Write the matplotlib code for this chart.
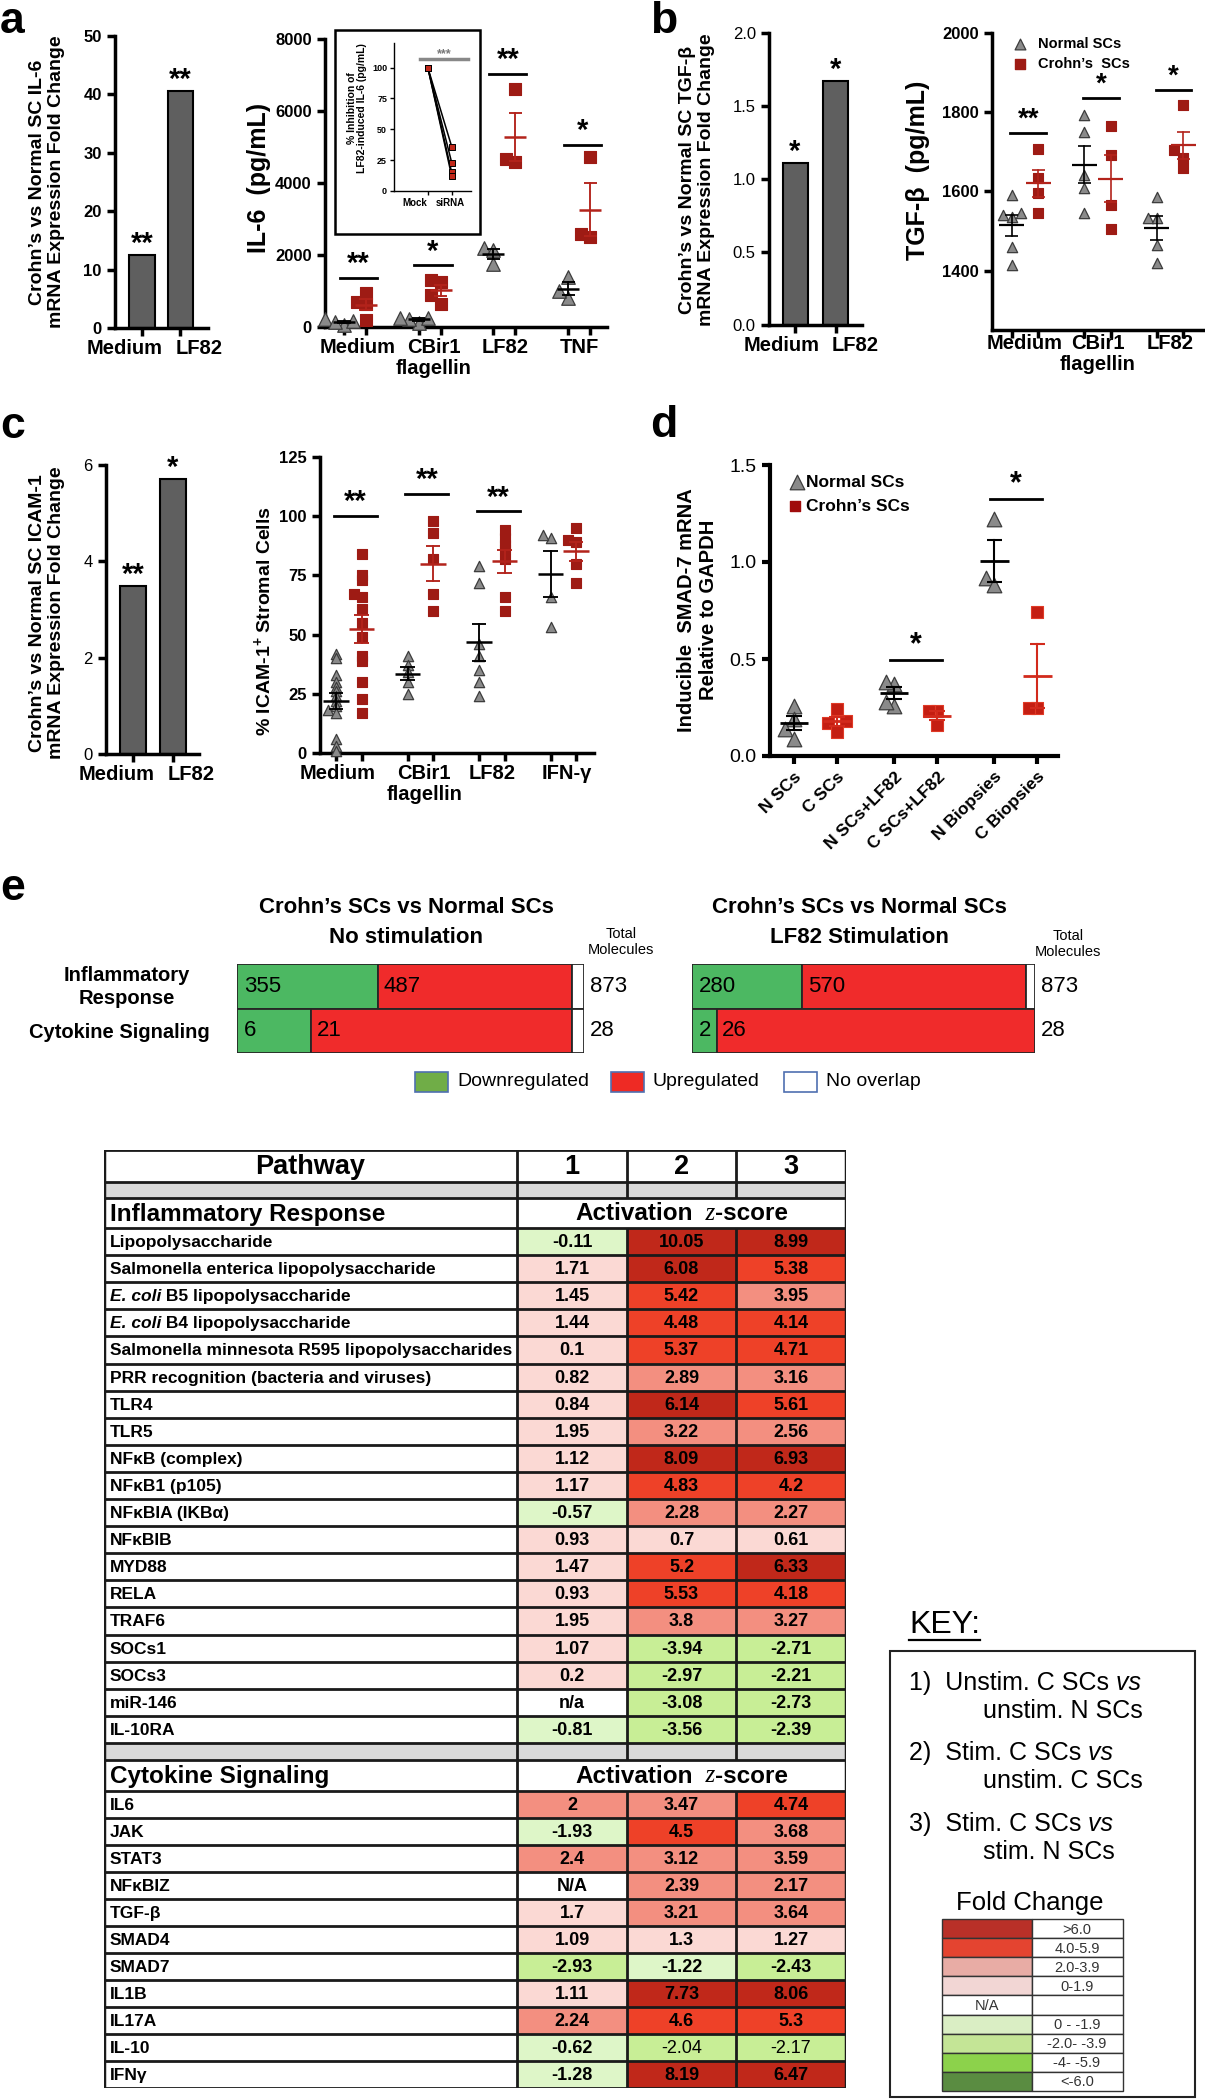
import numpy as np
import matplotlib
matplotlib.use('Agg')
import matplotlib.pyplot as plt
from matplotlib.patches import Rectangle
from matplotlib.lines import Line2D

plt.rcParams['font.family'] = ['Liberation Sans', 'DejaVu Sans']
plt.rcParams['mathtext.fontset'] = 'custom'
plt.rcParams['mathtext.rm'] = 'Liberation Sans:bold'
plt.rcParams['mathtext.it'] = 'Liberation Sans:italic:bold'
plt.rcParams['mathtext.bf'] = 'Liberation Sans:bold'

# ======================= DATA =======================
# panel a
a_bar_cats = ['Medium', 'LF82']
a_bar_vals = [12.5, 40.5]
a_bar_sig = ['**', '**']
il6_groups = ['Medium', 'CBir1\nflagellin', 'LF82', 'TNF']
il6_normal = [[60, 170, 210, 140], [100, 250, 230, 260], [2200, 2150, 1750], [1400, 800, 1000]]
il6_crohn = [[950, 650, 700, 200], [1300, 1250, 900, 650], [6610, 4670, 4570], [4720, 2580, 2490]]
il6_sig = ['**', '*', '**', '*']
il6_sig_y = [1360, 1710, 7040, 5050]
inset_cats = ['Mock', 'siRNA']
inset_mock = [100, 100, 100, 100]
inset_sirna = [36, 23, 15, 12]

# panel b
b_bar_cats = ['Medium', 'LF82']
b_bar_vals = [1.11, 1.67]
b_bar_sig = ['*', '*']
tgf_groups = ['Medium', 'CBir1\nflagellin', 'LF82']
tgf_normal = [[1590, 1545, 1540, 1535, 1460, 1415], [1794, 1750, 1642, 1608, 1545], [1587, 1533, 1533, 1465, 1420]]
tgf_crohn = [[1708, 1634, 1596, 1545], [1765, 1693, 1565, 1505], [1817, 1704, 1684, 1659]]
tgf_sig = ['**', '*', '*']
tgf_sig_y = [1748, 1836, 1857]

# panel c
c_bar_cats = ['Medium', 'LF82']
c_bar_vals = [3.48, 5.7]
c_bar_sig = ['**', '*']
icam_groups = ['Medium', 'CBir1\nflagellin', 'LF82', 'IFN-γ']
icam_normal = [[42, 40, 33, 30, 28, 26, 24, 22, 20, 18, 17, 6, 3, 1],
               [41, 37, 34, 30, 25],
               [79, 72, 46, 41, 35, 30, 24],
               [91, 92, 66, 53]]
icam_crohn = [[84, 75, 73, 67, 66, 61, 55, 49, 41, 39, 30, 23, 17],
              [98, 93, 82, 67, 60],
              [94, 91, 88, 86, 82, 66, 60],
              [95, 89, 90, 80, 72]]
icam_sig = ['**', '**', '**']
icam_sig_y = [100, 109.5, 102]

# panel d
d_labels = ['N SCs', 'C SCs', 'N SCs+LF82', 'C SCs+LF82', 'N Biopsies', 'C Biopsies']
d_normal = [[0.26, 0.19, 0.14, 0.09], [0.37, 0.38, 0.26, 0.28], [1.22, 0.92, 0.88]]
d_crohn = [[0.24, 0.18, 0.17, 0.125], [0.23, 0.23, 0.16], [0.74, 0.25, 0.25]]
d_sig = ['', '*', '*']
d_sig_y = [None, 0.495, 1.325]

# panel e
e_rows = ['Inflammatory\nResponse', 'Cytokine Signaling']
e_unstim_down = [355, 6]
e_unstim_up = [487, 21]
e_stim_down = [280, 2]
e_stim_up = [570, 26]
e_total = [873, 28]
e_legend = ['Downregulated', 'Upregulated', 'No overlap']

# table
ir_labels = ['Lipopolysaccharide', 'Salmonella enterica lipopolysaccharide', 'E. coli B5 lipopolysaccharide',
             'E. coli B4 lipopolysaccharide', 'Salmonella minnesota R595 lipopolysaccharides',
             'PRR recognition (bacteria and viruses)', 'TLR4', 'TLR5', 'NFκB (complex)', 'NFκB1 (p105)',
             'NFκBIA (IKBα)', 'NFκBIB', 'MYD88', 'RELA', 'TRAF6', 'SOCs1', 'SOCs3', 'miR-146', 'IL-10RA']
ir_z1 = ['-0.11', '1.71', '1.45', '1.44', '0.1', '0.82', '0.84', '1.95', '1.12', '1.17', '-0.57', '0.93',
         '1.47', '0.93', '1.95', '1.07', '0.2', 'n/a', '-0.81']
ir_z2 = ['10.05', '6.08', '5.42', '4.48', '5.37', '2.89', '6.14', '3.22', '8.09', '4.83', '2.28', '0.7',
         '5.2', '5.53', '3.8', '-3.94', '-2.97', '-3.08', '-3.56']
ir_z3 = ['8.99', '5.38', '3.95', '4.14', '4.71', '3.16', '5.61', '2.56', '6.93', '4.2', '2.27', '0.61',
         '6.33', '4.18', '3.27', '-2.71', '-2.21', '-2.73', '-2.39']
cs_labels = ['IL6', 'JAK', 'STAT3', 'NFκBIZ', 'TGF-β', 'SMAD4', 'SMAD7', 'IL1B', 'IL17A', 'IL-10', 'IFNγ']
cs_z1 = ['2', '-1.93', '2.4', 'N/A', '1.7', '1.09', '-2.93', '1.11', '2.24', '-0.62', '-1.28']
cs_z2 = ['3.47', '4.5', '3.12', '2.39', '3.21', '1.3', '-1.22', '7.73', '4.6', '-2.04', '8.19']
cs_z3 = ['4.74', '3.68', '3.59', '2.17', '3.64', '1.27', '-2.43', '8.06', '5.3', '-2.17', '6.47']
plain_cells = [('IL-10', 2), ('IL-10', 3)]

# key
key_items = [('1)  Unstim. C SCs', 'unstim. N SCs'), ('2)  Stim. C SCs', 'unstim. C SCs'),
             ('3)  Stim. C SCs', 'stim. N SCs')]
fc_labels = ['>6.0', '4.0-5.9', '2.0-3.9', '0-1.9', '', '0 - -1.9', '-2.0- -3.9', '-4- -5.9', '<-6.0']
fc_colors = ['#B93028', '#E44430', '#E8ACA5', '#F2D6D4', '#FFFFFF', '#DAEEC4', '#C4E596', '#8CD24B', '#5A8C41']

# ======================= FIGURE =======================
W, H = 1205, 2100
fig = plt.figure(figsize=(W / 100, H / 100), dpi=100)
fig.patch.set_facecolor('white')
RND = fig.canvas.get_renderer()
PT = 0.72  # points per pixel at dpi 100

TRI = '#8a8a8a'
TRI_E = '#3c3c3c'
SQ = '#9e1b14'
RED_LINE = '#b3231b'


def add_ax(x0, y0, x1, y1):
    return fig.add_axes([x0 / W, 1 - y1 / H, (x1 - x0) / W, (y1 - y0) / H])


def ftext(x, y, s, **kw):
    return fig.text(x / W, 1 - y / H, s, **kw)


def runs(x, y, parts, ha='left', va='center'):
    objs, ws = [], []
    for s, kw in parts:
        t = fig.text(0, 0, s, ha='left', va=va, **kw)
        objs.append(t)
        ws.append(t.get_window_extent(RND).width)
    x0 = x - sum(ws) / 2 if ha == 'center' else x
    for t, w in zip(objs, ws):
        t.set_position((x0 / W, 1 - y / H))
        x0 += w


def style(ax, lw=2.5):
    for s in ['top', 'right']:
        ax.spines[s].set_visible(False)
    for s in ['left', 'bottom']:
        ax.spines[s].set_linewidth(lw)
    ax.tick_params(width=lw, length=6, direction='out')


def swarm(vals, yr, dx, frac):
    vals = np.asarray(vals, float)
    offs = np.zeros(len(vals))
    placed = []
    for i in np.argsort(vals):
        for cand in [0, -dx, dx, -2 * dx, 2 * dx, -3 * dx, 3 * dx]:
            ok = all(not (abs(vals[i] - vals[j]) < frac * yr and abs(cand - offs[j]) < dx * 0.9) for j in placed)
            if ok:
                offs[i] = cand
                break
        placed.append(i)
    return offs


def mean_sem(ax, p, v, color, half, cap, lw):
    v = np.asarray(v, float)
    m = v.mean()
    se = v.std(ddof=1) / np.sqrt(len(v))
    ax.plot([p - half, p + half], [m, m], color=color, lw=lw, zorder=5, solid_capstyle='butt')
    ax.plot([p, p], [m - se, m + se], color=color, lw=lw * 0.75, zorder=5)
    ax.plot([p - cap, p + cap], [m + se, m + se], color=color, lw=lw * 0.75, zorder=5, solid_capstyle='butt')
    ax.plot([p - cap, p + cap], [m - se, m - se], color=color, lw=lw * 0.75, zorder=5, solid_capstyle='butt')


def dots(ax, pos_n, pos_c, vn, vc, yr, s_tri, s_sq, dx, frac, half, cap, lw=1.8,
         sq_col=SQ, sq_edge=SQ, red_line=RED_LINE):
    for p, v in zip(pos_n, vn):
        off = swarm(v, yr, dx, frac)
        ax.scatter(p + off, v, marker='^', s=s_tri, facecolor=TRI, edgecolor=TRI_E, linewidth=0.9, zorder=3,
                   clip_on=False)
        mean_sem(ax, p, v, 'black', half, cap, lw)
    for p, v in zip(pos_c, vc):
        off = swarm(v, yr, dx, frac)
        ax.scatter(p + off, v, marker='s', s=s_sq, facecolor=sq_col, edgecolor=sq_edge, linewidth=0.8, zorder=3,
                   clip_on=False)
        mean_sem(ax, p, v, red_line, half, cap, lw)


def sig(ax, x0, x1, y, txt, fs=21, lw=2):
    ax.plot([x0, x1], [y, y], color='black', lw=lw, clip_on=False)
    ax.text((x0 + x1) / 2, y, txt, ha='center', va='bottom', fontsize=fs, fontweight='bold', clip_on=False)


def group_labels(ax, centers, labels, dy=8, fs=14.5, dx=None):
    dx = dx or [0] * len(labels)
    for c, l, d in zip(centers, labels, dx):
        ax.annotate(l, xy=(c, 0), xycoords=('data', 'axes fraction'), xytext=(d * PT, -dy),
                    textcoords='offset points', ha='center', va='top', fontsize=fs, fontweight='bold',
                    linespacing=1.15, annotation_clip=False)


def bar_panel(box, cats, vals, sig_txt, ylim, yticks, ytlabels, xlim, width, tick_fs, tick_w, lab_dx):
    ax = add_ax(*box)
    x = np.arange(len(cats))
    ax.bar(x, vals, width=width, color='#5f5f5f', edgecolor='black', linewidth=1.5, zorder=2)
    ax.set_xlim(*xlim)
    ax.set_ylim(*ylim)
    ax.set_yticks(yticks)
    ax.set_yticklabels(ytlabels, fontsize=tick_fs, fontweight=tick_w)
    ax.set_xticks(x)
    ax.set_xticklabels([])
    group_labels(ax, x, cats, dy=8, fs=14.5, dx=lab_dx)
    for xi, v, s in zip(x, vals, sig_txt):
        ax.annotate(s, (xi, v), xytext=(0, -2), textcoords='offset points', ha='center', va='bottom',
                    fontsize=21, fontweight='bold', annotation_clip=False)
    style(ax)
    return ax


# panel letters
for (lx, ly, lt) in [(0, 33, 'a'), (650, 33, 'b'), (0, 438, 'c'), (650, 437, 'd'), (0, 900, 'e')]:
    ftext(lx, ly, lt, fontsize=32, fontweight='bold', va='baseline', ha='left')

# ---------------- panel a ----------------
bar_panel((115, 36, 208, 328), a_bar_cats, a_bar_vals, a_bar_sig, (0, 50), [0, 10, 20, 30, 40, 50],
          ['0', '10', '20', '30', '40', '50'], (-0.707, 1.73), 0.66, 12, 'bold', [-17, 19])
ftext(47, 182, "Crohn’s vs Normal SC IL-6\nmRNA Expression Fold Change", rotation=90, ha='center',
      va='center', fontsize=14, fontweight='bold', linespacing=1.15)

ax = add_ax(325, 39, 607, 327)
pn = np.array([0, 3.4, 6.8, 10.2])
pc = pn + 1
dots(ax, pn, pc, il6_normal, il6_crohn, 8000, 95, 80, 0.42, 0.035, 0.5, 0.3)
ax.set_ylim(0, 8000)
ax.set_xlim(-0.86, 11.96)
ax.set_yticks([0, 2000, 4000, 6000, 8000])
ax.set_yticklabels(['0', '2000', '4000', '6000', '8000'], fontsize=12, fontweight='bold')
ax.set_xticks(np.sort(np.concatenate([pn, pc])))
ax.set_xticklabels([])
style(ax)
group_labels(ax, (pn + pc) / 2, il6_groups, dx=[3, 4, 1, 0])
for n, c, s, y in zip(pn, pc, il6_sig, il6_sig_y):
    sig(ax, n - 0.2, c + 0.5, y, s)
ftext(259, 178, 'IL-6  (pg/mL)', rotation=90, ha='center', va='center', fontsize=18, fontweight='bold')

# inset
fig.add_artist(Rectangle((335 / W, 1 - 234 / H), 145 / W, 204 / H, transform=fig.transFigure, fill=False,
                         lw=1.8, ec='black', zorder=10))
ai = add_ax(394, 43, 471, 191)
for m, s in zip(inset_mock, inset_sirna):
    ai.plot([0, 1], [m, s], color='black', lw=1.1, zorder=2)
ai.scatter(np.zeros(len(inset_mock)), inset_mock, marker='s', s=22, facecolor='#c0281a', edgecolor='black',
           lw=0.7, zorder=3)
ai.scatter(np.ones(len(inset_sirna)), inset_sirna, marker='s', s=22, facecolor='#c0281a', edgecolor='black',
           lw=0.7, zorder=3)
ai.set_ylim(0, 120)
ai.set_xlim(-1.42, 1.81)
ai.set_yticks([0, 25, 50, 75, 100])
ai.set_yticklabels(['0', '25', '50', '75', '100'], fontsize=6.5, fontweight='bold')
ai.set_xticks([0, 1])
ai.set_xticklabels([])
style(ai, lw=1)
ai.tick_params(length=3, width=1, pad=2)
for xi, lab, d in zip([0, 1], inset_cats, [-13, -1]):
    ai.annotate(lab, xy=(xi, 0), xycoords=('data', 'axes fraction'), xytext=(d * PT, -5),
                textcoords='offset points', ha='center', va='top', fontsize=7, fontweight='bold')
ai.plot([-0.32, 1.7], [107, 107], color='#888888', lw=2.5)
ai.text(0.69, 106, '***', ha='center', va='bottom', fontsize=9, color='#777777', fontweight='bold')
ftext(357, 108, '% Inhibition of\nLF82-induced IL-6 (pg/mL)', rotation=90, ha='center', va='center',
      fontsize=7.5, fontweight='bold', linespacing=1.1)

# ---------------- panel b ----------------
bar_panel((769, 33, 862, 325), b_bar_cats, b_bar_vals, b_bar_sig, (0, 2.0), [0, 0.5, 1.0, 1.5, 2.0],
          ['0.0', '0.5', '1.0', '1.5', '2.0'], (-0.636, 1.636), 0.61, 12, 'normal', [-13, 19])
ftext(697, 180, "Crohn’s vs Normal SC TGF-β\nmRNA Expression Fold Change", rotation=90, ha='center',
      va='center', fontsize=14, fontweight='bold', linespacing=1.15)

ax = add_ax(992, 33, 1203, 330)
pn = np.array([0, 2.75, 5.5])
pc = pn + 1
dots(ax, pn, pc, tgf_normal, tgf_crohn, 750, 55, 45, 0.35, 0.03, 0.47, 0.25, lw=1.6)
ax.set_ylim(1250, 2000)
ax.set_xlim(-0.75, 7.25)
ax.set_yticks([1400, 1600, 1800, 2000])
ax.set_yticklabels(['1400', '1600', '1800', '2000'], fontsize=12, fontweight='bold')
ax.set_xticks(np.sort(np.concatenate([pn, pc])))
ax.set_xticklabels([])
style(ax)
group_labels(ax, (pn + pc) / 2, tgf_groups, dy=3)
for n, c, s, y in zip(pn, pc, tgf_sig, tgf_sig_y):
    sig(ax, n - 0.05, c + 0.3, y, s, fs=20)
ftext(918, 170, 'TGF-β  (pg/mL)', rotation=90, ha='center', va='center', fontsize=18, fontweight='bold')
ax.scatter([0.135], [0.963], transform=ax.transAxes, marker='^', s=60, facecolor=TRI, edgecolor=TRI_E,
           lw=0.9, clip_on=False)
ax.scatter([0.135], [0.896], transform=ax.transAxes, marker='s', s=45, facecolor=SQ, edgecolor=SQ,
           clip_on=False)
ax.text(0.22, 0.963, 'Normal SCs', transform=ax.transAxes, va='center', ha='left', fontsize=10.5,
        fontweight='bold')
ax.text(0.22, 0.896, 'Crohn’s  SCs', transform=ax.transAxes, va='center', ha='left', fontsize=10.5,
        fontweight='bold')

# ---------------- panel c ----------------
bar_panel((106, 465, 199, 754), c_bar_cats, c_bar_vals, c_bar_sig, (0, 6), [0, 2, 4, 6],
          ['0', '2', '4', '6'], (-0.674, 1.65), 0.65, 12, 'normal', [-16, 18])
ftext(47, 613, "Crohn’s vs Normal SC ICAM-1\nmRNA Expression Fold Change", rotation=90, ha='center',
      va='center', fontsize=14, fontweight='bold', linespacing=1.15)

ax = add_ax(320, 457, 594, 753)
pn = np.array([0, 2.8, 5.6, 8.4])
pc = pn + 1
dots(ax, pn, pc, icam_normal, icam_crohn, 125, 55, 50, 0.3, 0.015, 0.5, 0.28, lw=1.8)
ax.set_ylim(0, 125)
ax.set_xlim(-0.63, 10.1)
ax.set_yticks([0, 25, 50, 75, 100, 125])
ax.set_yticklabels(['0', '25', '50', '75', '100', '125'], fontsize=12, fontweight='bold')
ax.set_xticks(np.sort(np.concatenate([pn, pc])))
ax.set_xticklabels([])
style(ax)
group_labels(ax, (pn + pc) / 2, icam_groups, dx=[-11, 4, 0, 3])
for n, c, s, y in zip(pn, pc, icam_sig, icam_sig_y):
    sig(ax, n - 0.1, c + 0.6, y, s)
ftext(263, 621, r'% ICAM-1$^{+}$ Stromal Cells', rotation=90, ha='center', va='center', fontsize=14,
      fontweight='bold')

# ---------------- panel d ----------------
ax = add_ax(770, 465, 1058, 756)
pn = np.array([0, 2.33, 4.66])
pc = pn + 1
dots(ax, pn, pc, d_normal, d_crohn, 1.5, 110, 85, 0.2, 0.04, 0.33, 0.18, lw=2.0,
     sq_col='#c41e12', sq_edge='#e03a26', red_line='#d22a1c')
ax.set_ylim(0, 1.5)
ax.set_xlim(-0.56, 6.14)
ax.set_yticks([0, 0.5, 1.0, 1.5])
ax.set_yticklabels(['0.0', '0.5', '1.0', '1.5'], fontsize=14)
allpos = np.sort(np.concatenate([pn, pc]))
ax.set_xticks(allpos)
ax.set_xticklabels(d_labels, rotation=45, ha='right', rotation_mode='anchor', fontsize=12.5,
                   fontweight='bold')
style(ax, lw=3)
for n, c, s, y in zip(pn, pc, d_sig, d_sig_y):
    if s:
        sig(ax, n - 0.1, c + 0.1, y, s, fs=22)
ftext(697, 610, "Inducible  SMAD-7 mRNA\nRelative to GAPDH", rotation=90, ha='center', va='center',
      fontsize=14.5, fontweight='bold', linespacing=1.2)
ax.scatter([0.095], [0.94], transform=ax.transAxes, marker='^', s=110, facecolor=TRI, edgecolor=TRI_E,
           lw=0.9, clip_on=False)
ax.scatter([0.088], [0.858], transform=ax.transAxes, marker='s', s=60, facecolor='#a00c0c', edgecolor='#a00c0c',
           clip_on=False)
ax.text(0.125, 0.94, 'Normal SCs', transform=ax.transAxes, va='center', ha='left', fontsize=12.5,
        fontweight='bold')
ax.text(0.125, 0.858, 'Crohn’s SCs', transform=ax.transAxes, va='center', ha='left', fontsize=12.5,
        fontweight='bold')

# ---------------- panel e ----------------
GREEN_E = '#4cb862'
RED_E = '#f02b2b'


def stacked(box, down, up, total):
    ax = add_ax(*box)
    for i in range(len(total)):
        d = down[i] / total[i]
        u = up[i] / total[i]
        rest = 1 - d - u
        ax.barh(i, d, left=0, height=1.0, color=GREEN_E, edgecolor='#262626', lw=1.3)
        ax.barh(i, u, left=d, height=1.0, color=RED_E, edgecolor='#262626', lw=1.3)
        if rest > 1e-6:
            ax.barh(i, rest, left=d + u, height=1.0, color='white', edgecolor='#262626', lw=1.3)
        ax.annotate(str(down[i]), (0, i), xytext=(5, 0), textcoords='offset points', va='center', ha='left',
                    fontsize=16)
        ax.annotate(str(up[i]), (d, i), xytext=(4, 0), textcoords='offset points', va='center', ha='left',
                    fontsize=16)
        ax.annotate(str(total[i]), (1, i), xytext=(4, 0), textcoords='offset points', va='center',
                    ha='left', fontsize=16, annotation_clip=False)
    ax.set_xlim(0, 1)
    ax.set_ylim(len(total) - 0.5, -0.5)
    ax.axis('off')
    return ax


stacked((237, 964, 584, 1053), e_unstim_down, e_unstim_up, e_total)
stacked((692, 964, 1035, 1053), e_stim_down, e_stim_up, e_total)
ftext(406, 908, 'Crohn’s SCs vs Normal SCs', ha='center', va='center', fontsize=16, fontweight='bold')
ftext(406, 937, 'No stimulation', ha='center', va='center', fontsize=16, fontweight='bold')
ftext(859, 908, 'Crohn’s SCs vs Normal SCs', ha='center', va='center', fontsize=16, fontweight='bold')
ftext(859, 937, 'LF82 Stimulation', ha='center', va='center', fontsize=16, fontweight='bold')
ftext(621, 942, 'Total\nMolecules', ha='center', va='center', fontsize=10.5, linespacing=1.25)
ftext(1068, 944, 'Total\nMolecules', ha='center', va='center', fontsize=10.5, linespacing=1.25)
ftext(127, 987, e_rows[0], ha='center', va='center', fontsize=14.5, fontweight='bold', linespacing=1.25)
ftext(119, 1032, e_rows[1], ha='center', va='center', fontsize=14.5, fontweight='bold')
leg = [(415, '#70ad47', '#4f6fb0'), (611, '#ee2a24', '#4f6fb0'), (784, 'white', '#4f6fb0')]
for (lx, col, ec), lab in zip(leg, e_legend):
    fig.add_artist(Rectangle((lx / W, 1 - 1092 / H), 33 / W, 20 / H, transform=fig.transFigure,
                             facecolor=col, edgecolor=ec, lw=1.2))
    ftext(lx + 42, 1082, lab, ha='left', va='center', fontsize=14)

# ---------------- table ----------------
TX0, TY0 = 104, 1150
col_edges = [0, 413, 523, 632, 742]
LINE = '#1a1a1a'


def zcolor(s):
    try:
        v = float(s)
    except ValueError:
        return 'white'
    if v >= 6:
        return '#C0281A'
    if v >= 4:
        return '#EE4128'
    if v >= 2:
        return '#F38F80'
    if v >= 0:
        return '#FBD9D4'
    if v > -2:
        return '#DEF6C8'
    if v > -4:
        return '#C8EE96'
    if v > -6:
        return '#8ED24F'
    return '#5B8E3F'


rows = [('header', 32.0, None), ('gray', 16.0, None), ('section', 30.0, 'Inflammatory Response')]
rows += [('data', 27.1, (l, a, b, c)) for l, a, b, c in zip(ir_labels, ir_z1, ir_z2, ir_z3)]
rows += [('gray', 17.0, None), ('section', 31.0, 'Cytokine Signaling')]
rows += [('data', 27.0, (l, a, b, c)) for l, a, b, c in zip(cs_labels, cs_z1, cs_z2, cs_z3)]
total_h = sum(r[1] for r in rows)

tab = add_ax(TX0, TY0, TX0 + col_edges[-1], TY0 + total_h)
tab.set_xlim(0, col_edges[-1])
tab.set_ylim(total_h, 0)
tab.axis('off')

ccent = [(col_edges[i] + col_edges[i + 1]) / 2 for i in range(4)]
y = 0.0
for kind, h, content in rows:
    yc = TY0 + y + h / 2
    if kind == 'gray':
        tab.add_patch(Rectangle((0, y), col_edges[-1], h, facecolor='#d9d9d9', edgecolor='none'))
    if kind == 'header':
        ftext(TX0 + ccent[0], yc + 1, 'Pathway', ha='center', va='center', fontsize=19.5, fontweight='bold')
        for k in range(1, 4):
            ftext(TX0 + ccent[k], yc + 1, str(k), ha='center', va='center', fontsize=19.5, fontweight='bold')
    if kind == 'section':
        ftext(TX0 + 6, yc + 1, content, ha='left', va='center', fontsize=17.5, fontweight='bold')
        runs(TX0 + (col_edges[1] + col_edges[4]) / 2, yc + 1,
             [('Activation', dict(fontsize=17.5, fontweight='bold')),
              ('  z', dict(fontsize=18, style='italic', family=['Liberation Serif', 'DejaVu Serif'])),
              ('-score', dict(fontsize=17.5, fontweight='bold'))], ha='center')
    if kind == 'data':
        lab, *vals = content
        for k, v in enumerate(vals, start=1):
            tab.add_patch(Rectangle((col_edges[k], y), col_edges[k + 1] - col_edges[k], h,
                                    facecolor=zcolor(v), edgecolor='none'))
            wt = 'normal' if (lab, k) in plain_cells else 'bold'
            ftext(TX0 + ccent[k], yc + 1, v, ha='center', va='center', fontsize=13, fontweight=wt)
        if lab.startswith('E. coli'):
            runs(TX0 + 6, yc + 1, [('E. coli', dict(fontsize=12.5, fontweight='bold', style='italic')),
                                    (lab[len('E. coli'):], dict(fontsize=12.5, fontweight='bold'))])
        else:
            ftext(TX0 + 6, yc + 1, lab, ha='left', va='center', fontsize=12.5, fontweight='bold')
    tab.plot([0, col_edges[-1]], [y, y], color=LINE, lw=2, solid_capstyle='butt')
    inner = [col_edges[1]] if kind == 'section' else col_edges[1:4]
    for xe in inner:
        tab.plot([xe, xe], [y, y + h], color=LINE, lw=2, solid_capstyle='butt')
    y += h
tab.plot([0, col_edges[-1]], [total_h, total_h], color=LINE, lw=2)
tab.plot([0, 0], [0, total_h], color=LINE, lw=2.5)
tab.plot([col_edges[-1]] * 2, [0, total_h], color=LINE, lw=2.5)

# ---------------- key ----------------
kt = ftext(909, 1625, 'KEY:', ha='left', va='center', fontsize=23)
bb = kt.get_window_extent(RND)
fig.add_artist(Line2D([bb.x0 / W, bb.x1 / W], [1 - 1640 / H, 1 - 1640 / H], transform=fig.transFigure,
                      color='black', lw=1.6))
fig.add_artist(Rectangle((890 / W, 1 - 2097 / H), 305 / W, 446 / H, transform=fig.transFigure, fill=False,
                         lw=1.5, ec='#222222'))
ky = [1683, 1753, 1824]
for (l1, l2), yy in zip(key_items, ky):
    runs(909, yy, [(l1, dict(fontsize=18)), (' vs', dict(fontsize=18, style='italic'))])
    ftext(983, yy + 28, l2, ha='left', va='center', fontsize=18)
ftext(1030, 1903, 'Fold Change', ha='center', va='center', fontsize=18.5)
ky0, kh = 1919, 19.1
for i, (lab, col) in enumerate(zip(fc_labels, fc_colors)):
    yy = ky0 + i * kh
    fig.add_artist(Rectangle((942 / W, 1 - (yy + kh) / H), 90 / W, kh / H, transform=fig.transFigure,
                             facecolor=col, edgecolor='#333333', lw=1.0))
    fig.add_artist(Rectangle((1032 / W, 1 - (yy + kh) / H), 91 / W, kh / H, transform=fig.transFigure,
                             facecolor='white', edgecolor='#333333', lw=1.0))
    ftext(1077, yy + kh / 2 + 1, lab, ha='center', va='center', fontsize=10.5, color='#333333')
    if col == '#FFFFFF':
        ftext(987, yy + kh / 2 + 1, 'N/A', ha='center', va='center', fontsize=10.5, color='#333333')

fig.savefig('out.png', dpi=100, facecolor='white')
